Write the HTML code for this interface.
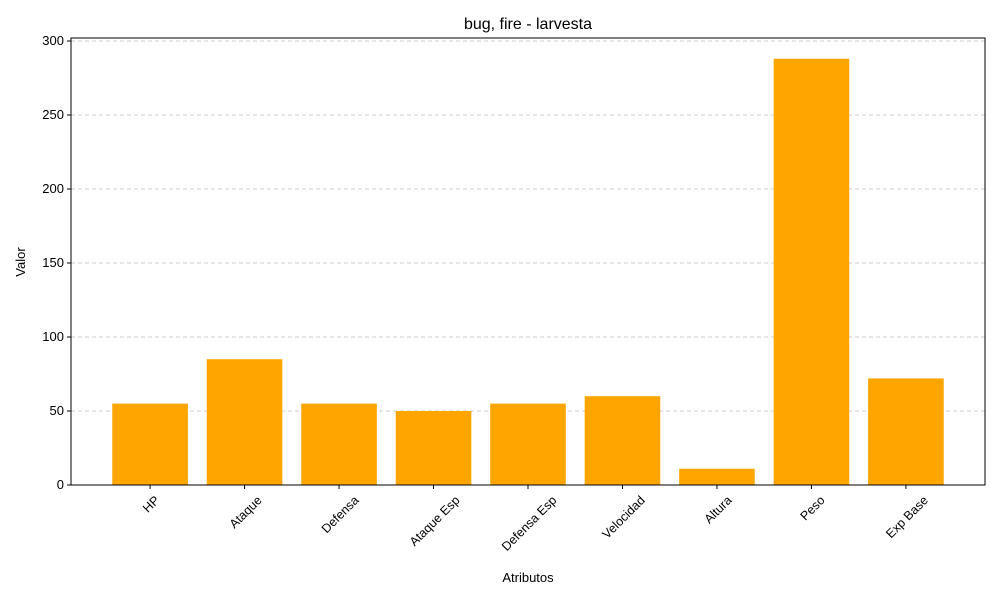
<!DOCTYPE html>
<html><head><meta charset="utf-8"><style>
body{margin:0;background:#fff;}
svg{font-family:"Liberation Sans","DejaVu Sans",sans-serif;}
</style></head><body>
<svg id="chart" width="1000" height="600">
<text x="528" y="29" text-anchor="middle" font-size="16">bug, fire - larvesta</text>
<g id="grid"></g><g id="bars"></g><g id="axes"></g>
<text x="528" y="582" text-anchor="middle" font-size="13">Atributos</text>
<text transform="translate(25,262) rotate(-90)" text-anchor="middle" font-size="13">Valor</text>
</svg>
<script>
const categories=["HP","Ataque","Defensa","Ataque Esp","Defensa Esp","Velocidad","Altura","Peso","Exp Base"];
const values=[55,85,55,50,55,60,11,288,72];
const yTicks=[0,50,100,150,200,250,300];
const L=71,R=985,T=38,B=485;
const x=i=>L+(i+0.837)*(R-L)/9.674;
const y=v=>B-v*(444/300);
const bw=0.8*(R-L)/9.674;
const ns="http://www.w3.org/2000/svg";
function mk(t,a,p){const e=document.createElementNS(ns,t);for(const k in a)e.setAttribute(k,a[k]);p.appendChild(e);return e;}
const g=document.getElementById('grid'),b=document.getElementById('bars'),ax=document.getElementById('axes');
yTicks.forEach(v=>{
 const l=mk('line',{x1:L,x2:R,y1:y(v),y2:y(v),stroke:'#ccc','stroke-dasharray':'4,3'},g);
 
 
 mk('line',{x1:L-4,x2:L,y1:y(v),y2:y(v),stroke:'#000'},ax);
 const t=mk('text',{x:L-7,y:y(v)+4,'text-anchor':'end','font-size':13},ax);t.textContent=v;
 
 
});
values.forEach((v,i)=>{
 const r=mk('rect',{x:x(i)-bw/2,y:y(v),width:bw,height:B-y(v),fill:'#ffa500'},b);
 
 
 mk('line',{x1:x(i),x2:x(i),y1:B,y2:B+4,stroke:'#000'},ax);
 const t=mk('text',{'text-anchor':'end','font-size':12.5},ax);t.textContent=categories[i];
 
 
 const len=t.getComputedTextLength();
 const ex=x(i)+len*0.707/2+4, ey=B+16;
 t.setAttribute('transform',`translate(${ex},${ey}) rotate(-45)`);
});
const f=mk('rect',{x:L,y:T,width:R-L,height:B-T,fill:'none',stroke:'#000'},ax);


</script>
</body></html>
